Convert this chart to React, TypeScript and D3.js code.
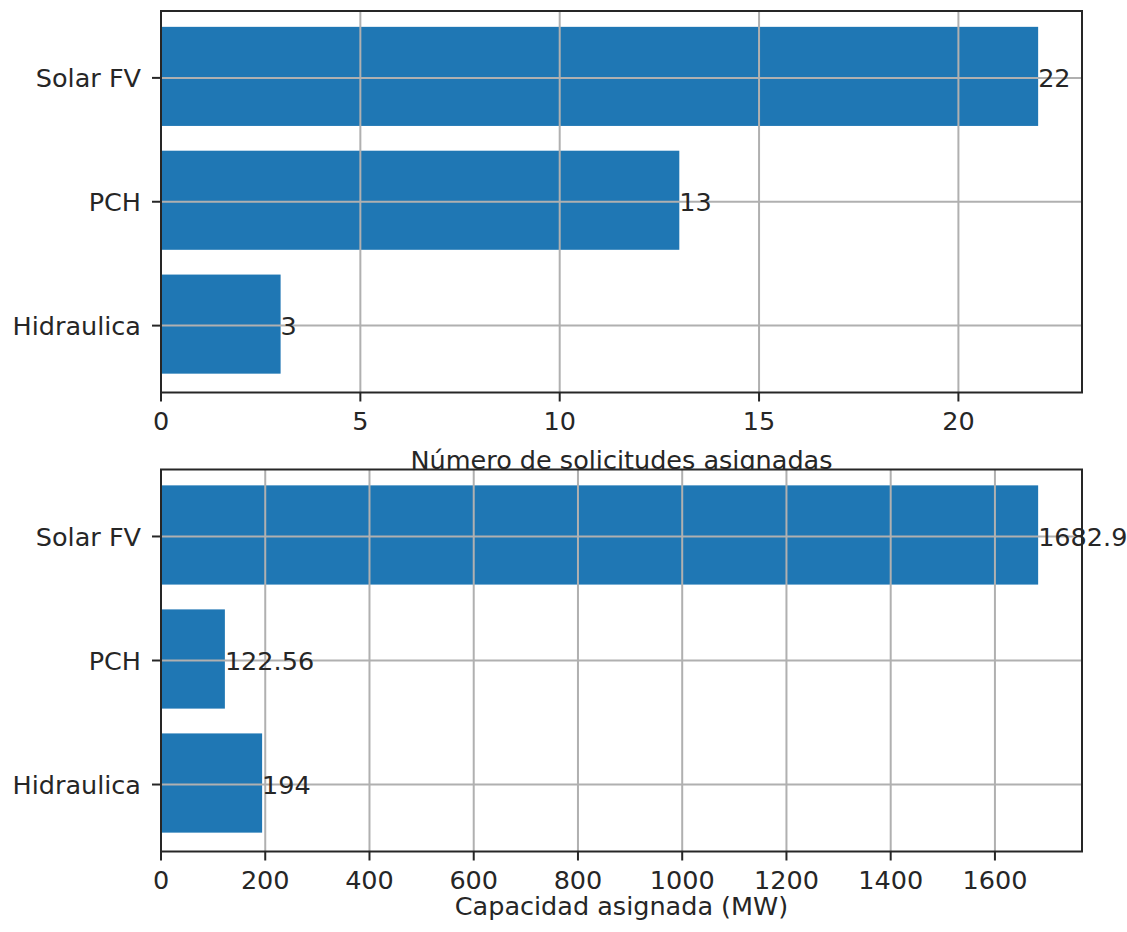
import { useEffect, useRef } from 'react';
import * as d3 from 'd3';

const categories = ['Hidraulica', 'PCH', 'Solar FV'];
const solicitudes = [3, 13, 22];
const capacidad = [194, 122.56, 1682.9];
const solicitudesTicks = [0, 5, 10, 15, 20];
const capacidadTicks = [0, 200, 400, 600, 800, 1000, 1200, 1400, 1600];

const W = 1127;
const H = 932;
const FONT = 'DejaVu Sans, sans-serif';
const FS = 25.5;
const BAR = '#1f77b4';
const GRID = '#b0b0b0';
const INK = '#262626';

interface Panel {
  values: number[];
  ticks: number[];
  label: string;
  top: number;
  bottom: number;
  labelBaseline: number;
}

export default function App() {
  const svgRef = useRef<SVGSVGElement>(null);

  useEffect(() => {
    if (!svgRef.current) return;
    const svg = d3.select(svgRef.current);
    svg.selectAll('*').remove();

    const left = 161;
    const right = 1082;

    const panels: Panel[] = [
      {
        values: solicitudes,
        ticks: solicitudesTicks,
        label: 'Número de solicitudes asignadas',
        top: 11,
        bottom: 392.5,
        labelBaseline: 468.5,
      },
      {
        values: capacidad,
        ticks: capacidadTicks,
        label: 'Capacidad asignada (MW)',
        top: 469.5,
        bottom: 851.5,
        labelBaseline: 915,
      },
    ];

    panels.forEach(p => {
      const maxV = d3.max(p.values) || 0;
      const x = d3.scaleLinear().domain([0, maxV * 1.05]).range([left, right]);
      // matplotlib barh: height 0.8 on 0..n-1, 5% margins
      const lo = -0.4, hi = categories.length - 1 + 0.4;
      const pad = (hi - lo) * 0.05;
      const y = d3.scaleLinear().domain([lo - pad, hi + pad]).range([p.bottom, p.top]);

      const g = svg.append('g');

      g.append('rect')
        .attr('x', left).attr('y', p.top)
        .attr('width', right - left).attr('height', p.bottom - p.top)
        .attr('fill', '#fff');

      g.selectAll('.bar')
        .data(p.values)
        .enter().append('rect')
        .attr('x', x(0))
        .attr('y', (_, i) => y(i + 0.4) - 1.5)
        .attr('width', d => x(d) - x(0))
        .attr('height', y(-0.4) - y(0.4))
        .attr('fill', BAR);

      // grid
      g.selectAll('.vgrid')
        .data(p.ticks)
        .enter().append('line')
        .attr('x1', d => x(d)).attr('x2', d => x(d))
        .attr('y1', p.top).attr('y2', p.bottom)
        .attr('stroke', GRID).attr('stroke-width', 2);
      g.selectAll('.hgrid')
        .data(categories)
        .enter().append('line')
        .attr('x1', left).attr('x2', right)
        .attr('y1', (_, i) => y(i)).attr('y2', (_, i) => y(i))
        .attr('stroke', GRID).attr('stroke-width', 2);

      // value labels
      g.selectAll('.val')
        .data(p.values)
        .enter().append('text')
        .attr('x', d => x(d))
        .attr('y', (_, i) => y(i))
        .attr('dy', '0.36em')
        .attr('font-family', FONT).attr('font-size', FS)
        .attr('fill', INK)
        .text(d => String(d));

      // spines
      g.append('rect')
        .attr('x', left).attr('y', p.top)
        .attr('width', right - left).attr('height', p.bottom - p.top)
        .attr('fill', 'none').attr('stroke', INK).attr('stroke-width', 2);

      // x ticks
      g.selectAll('.xt')
        .data(p.ticks)
        .enter().append('line')
        .attr('x1', d => x(d)).attr('x2', d => x(d))
        .attr('y1', p.bottom).attr('y2', p.bottom + 9)
        .attr('stroke', INK).attr('stroke-width', 2);
      g.selectAll('.xtl')
        .data(p.ticks)
        .enter().append('text')
        .attr('x', d => x(d))
        .attr('y', p.bottom + 37.5)
        .attr('text-anchor', 'middle')
        .attr('font-family', FONT).attr('font-size', FS)
        .attr('fill', INK)
        .text(d => String(d));

      // y ticks
      g.selectAll('.yt')
        .data(categories)
        .enter().append('line')
        .attr('x1', left - 9).attr('x2', left)
        .attr('y1', (_, i) => y(i)).attr('y2', (_, i) => y(i))
        .attr('stroke', INK).attr('stroke-width', 2);
      g.selectAll('.ytl')
        .data(categories)
        .enter().append('text')
        .attr('x', left - 20)
        .attr('y', (_, i) => y(i))
        .attr('dy', '0.36em')
        .attr('text-anchor', 'end')
        .attr('font-family', FONT).attr('font-size', FS)
        .attr('fill', INK)
        .text(d => d);

      g.append('text')
        .attr('x', (left + right) / 2)
        .attr('y', p.labelBaseline)
        .attr('text-anchor', 'middle')
        .attr('font-family', FONT).attr('font-size', FS)
        .attr('fill', INK)
        .text(p.label);
    });
  }, []);

  return (
    <svg
      ref={svgRef}
      width={W}
      height={H}
      style={{ position: 'absolute', left: 0, top: 0, background: '#fff' }}
    />
  );
}
